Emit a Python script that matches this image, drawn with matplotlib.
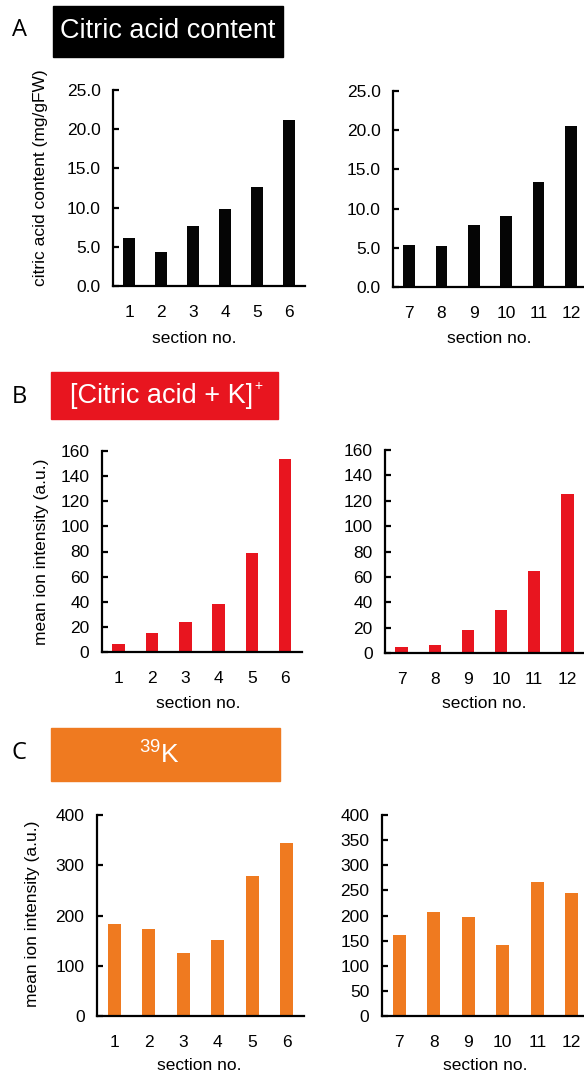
import matplotlib
matplotlib.use("Agg")
import matplotlib.pyplot as plt
from matplotlib.patches import Rectangle

plt.rcParams['font.family'] = ['Liberation Sans', 'DejaVu Sans']
plt.rcParams['mathtext.fontset'] = 'custom'
plt.rcParams['mathtext.rm'] = 'Liberation Sans'
plt.rcParams['mathtext.it'] = 'Liberation Sans'

# ---- data ----
sections_left = ["1", "2", "3", "4", "5", "6"]
sections_right = ["7", "8", "9", "10", "11", "12"]

citric_left = [6.1, 4.4, 7.6, 9.8, 12.6, 21.2]
citric_right = [5.4, 5.2, 7.9, 9.0, 13.4, 20.5]

citk_left = [6, 15, 24, 38.5, 79, 154]
citk_right = [4.5, 6.3, 18.4, 33.5, 65, 125]

k_left = [184, 174, 125, 151, 278, 345]
k_right = [161, 207, 198, 142, 266, 244]

W, H = 584, 1076
fig = plt.figure(figsize=(W / 100, H / 100), dpi=100)


def add_axes(x0, x1, ytop, yzero):
    return fig.add_axes([x0 / W, 1 - yzero / H, (x1 - x0) / W, (yzero - ytop) / H])


def style(ax, cats, vals, color, ylim, yticks, fmt, width=0.37):
    xs = range(len(cats))
    ax.bar(xs, vals, width=width, color=color)
    ax.set_xlim(-0.5, len(cats) - 0.5)
    ax.set_ylim(*ylim)
    ax.set_yticks(yticks)
    ax.set_yticklabels([fmt(v) for v in yticks])
    ax.set_xticks(list(xs))
    ax.set_xticklabels(cats)
    for s in ['top', 'right']:
        ax.spines[s].set_visible(False)
    for s in ['left', 'bottom']:
        ax.spines[s].set_linewidth(1.6)
    ax.tick_params(axis='y', direction='in', length=4, width=1.6, labelsize=12.5, pad=9)
    ax.tick_params(axis='x', length=0, labelsize=12.5, pad=14)
    ax.patch.set_alpha(0)


# Panel A
ax = add_axes(113, 305, 90, 286)
style(ax, sections_left, citric_left, '#050505', (0, 25), [0, 5, 10, 15, 20, 25], lambda v: f"{v:.1f}")
ax = add_axes(393, 587, 91, 287)
style(ax, sections_right, citric_right, '#050505', (0, 25), [0, 5, 10, 15, 20, 25], lambda v: f"{v:.1f}")

# Panel B
ax = add_axes(102, 302, 451, 652)
style(ax, sections_left, citk_left, '#E8151F', (0, 160), list(range(0, 161, 20)), lambda v: f"{v}")
ax = add_axes(385, 584, 450, 653)
style(ax, sections_right, citk_right, '#E8151F', (0, 160), list(range(0, 161, 20)), lambda v: f"{v}")

# Panel C
ax = add_axes(97, 304, 815, 1016)
style(ax, sections_left, k_left, '#EF7A20', (0, 400), [0, 100, 200, 300, 400], lambda v: f"{v}")
ax = add_axes(382, 589, 815, 1016)
style(ax, sections_right, k_right, '#EF7A20', (0, 400), list(range(0, 401, 50)), lambda v: f"{v}")


def fx(x):
    return x / W


def fy(y):
    return 1 - y / H


# y labels
fig.text(fx(41), fy(178), "citric acid content (mg/gFW)", rotation=90, ha='center', va='center', fontsize=12.5)
fig.text(fx(42), fy(552), "mean ion intensity (a.u.)", rotation=90, ha='center', va='center', fontsize=12.5)
fig.text(fx(33), fy(914), "mean ion intensity (a.u.)", rotation=90, ha='center', va='center', fontsize=12.5)

# x labels
for (x, y) in [(194, 338), (489, 338), (198, 703), (484, 703), (199, 1066), (485, 1066)]:
    fig.text(fx(x), fy(y), "section no.", ha='center', va='center', fontsize=12.5)

# header boxes
boxes = [
    (53, 6, 283, 57, '#000000', "Citric acid content", 168, 31, 19.5),
    (51, 372, 278, 419, '#E8151F', "[Citric acid + K]", 162, 396, 19.5),
    (51, 728, 280, 781, '#EF7A20', r"$^{39}$K", 159, 755, 19),
]
for (x0, y0, x1, y1, c, t, tx, ty, fs) in boxes:
    fig.patches.append(Rectangle((fx(x0), fy(y1)), (x1 - x0) / W, (y1 - y0) / H,
                                 transform=fig.transFigure, color=c, zorder=0))
    fig.text(fx(tx), fy(ty), t, ha='center', va='center', color='white', fontsize=fs)
# small superscript plus for the ion label
fig.text(fx(258), fy(386), "+", ha='center', va='center', color='white', fontsize=10)

# panel letters
for (letter, y) in [("A", 30), ("B", 397), ("C", 753)]:
    fig.text(fx(19), fy(y), letter, ha='center', va='center', fontsize=17,
             family=['Open Sans', 'DejaVu Sans'])

fig.savefig("out.png", dpi=100)
